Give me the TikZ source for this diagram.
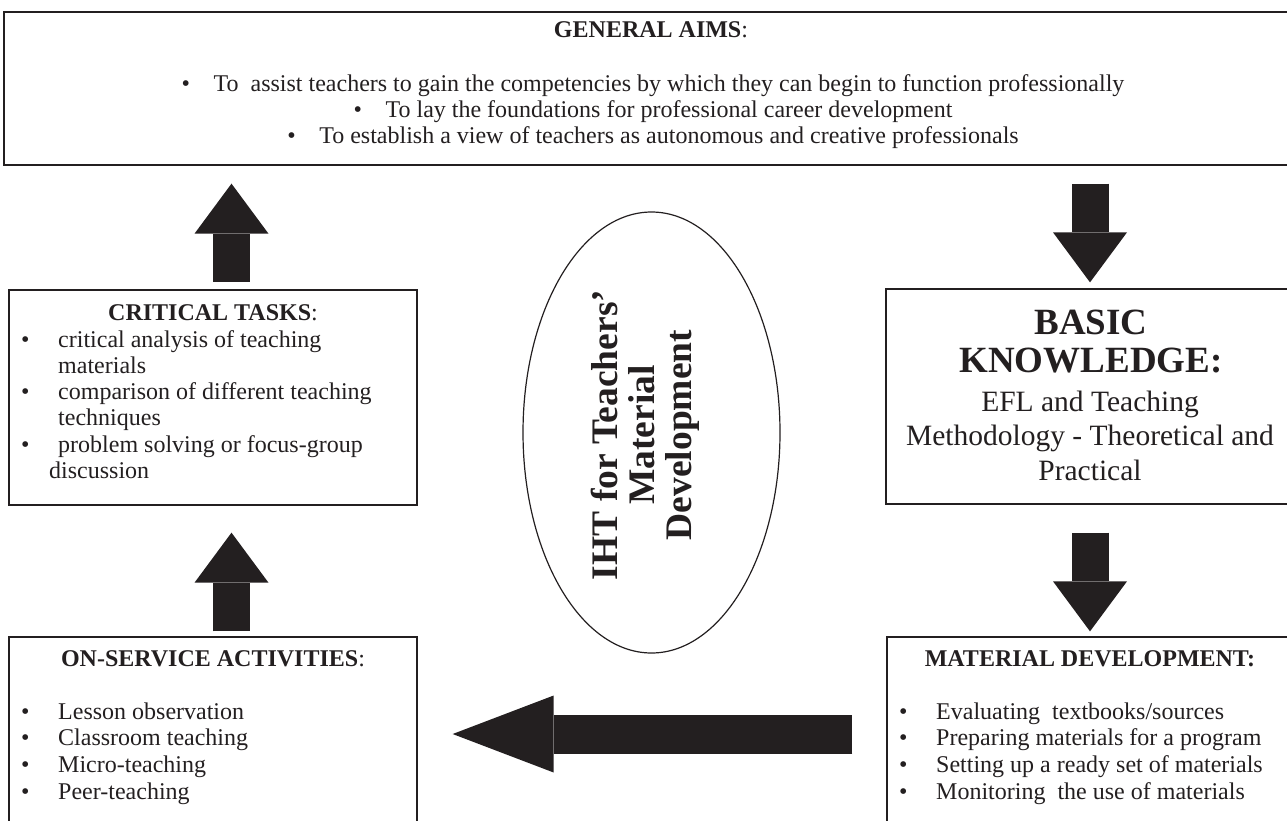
\documentclass[tikz,border=0pt]{standalone}
\usepackage{fontspec}
\setmainfont{Liberation Serif}
\usetikzlibrary{shapes.geometric,arrows.meta}
\definecolor{ink}{RGB}{35,31,32}
% bullet with a fixed gap before the item text
\newcommand{\itemdot}[1][37pt]{\makebox[#1][l]{\textbullet}}

\begin{document}
\begin{tikzpicture}[x=1pt,y=-1pt, every node/.style={text=ink,inner sep=0pt},
  box/.style={draw=ink,line width=1.3pt,rectangle,minimum width=408pt},
  head/.style={anchor=base,font=\fontsize{24pt}{26.7pt}\selectfont},
  item/.style={anchor=base west,font=\fontsize{24pt}{26.7pt}\selectfont},
  big/.style={anchor=base,font=\fontsize{37pt}{39pt}\selectfont\bfseries},
  mid/.style={anchor=base,font=\fontsize{29.5pt}{34.5pt}\selectfont},
  blockarrow/.style={draw=ink,line width=37pt,-{Triangle[length=50pt,width=74pt,line width=0pt]}},
  widearrow/.style={draw=ink,line width=39pt,-{Triangle[length=101pt,width=77pt,line width=0pt]}}]
\useasboundingbox (0,0) rectangle (1287,820);
\clip (0,0) rectangle (1287,820);

% boxes
\node[box,minimum width=1294pt,minimum height=153pt] (aims) at (651,88.5) {};
\node[box,minimum height=215pt] (crit) at (213,397.5) {};
\node[box,minimum height=200pt] (onserv) at (213,737) {};
\node[box,minimum height=215pt] (basic) at (1090,396.5) {};
\node[box,minimum height=200pt] (matdev) at (1091,737) {};
\node[draw=ink,line width=1.2pt,ellipse,minimum width=257pt,minimum height=441pt] (iht) at (651.5,432.5) {};
\node[rotate=90,align=center,font=\fontsize{37.5pt}{37pt}\selectfont\bfseries] (ihttext) at (645,435)
  {IHT for Teachers'\\Material\\Development};

% general aims
\node[head] (aimhead) at (651,37) {\textbf{GENERAL AIMS}:};
\node[head] (aim1) at (653,91) {\itemdot[32pt]To\ \ assist teachers to gain the competencies by which they can begin to function professionally};
\node[head] (aim2) at (653,117) {\itemdot[32pt]To lay the foundations for professional career development};
\node[head] (aim3) at (653,143) {\itemdot[32pt]To establish a view of teachers as autonomous and creative professionals};

% critical tasks
\node[head] (cthead) at (213,320) {\textbf{CRITICAL TASKS}:};
\foreach \y/\txt [count=\i] in {347/\itemdot critical analysis of teaching,
  373.3/\hspace*{37pt}materials,
  399.6/\itemdot comparison of different teaching,
  425.9/\hspace*{37pt}techniques,
  452.2/\itemdot problem solving or focus-group,
  478.5/\hspace*{28pt}discussion}
  \node[item] (ct\i) at (21,\y) {\txt};

% on-service activities
\node[head] (oshead) at (213,666) {\textbf{ON-SERVICE ACTIVITIES}:};
\foreach \txt [count=\i] in {Lesson observation,Classroom teaching,Micro-teaching,Peer-teaching}
  \node[item] (os\i) at (21,{719+26.7*(\i-1)}) {\itemdot\txt};

% basic knowledge
\node[big] (bk1) at (1091,334) {BASIC};
\node[big] (bk2) at (1091,372) {KNOWLEDGE:};
\node[mid] (bk3) at (1090,411) {EFL and Teaching};
\node[mid] (bk4) at (1090,445) {Methodology - Theoretical and};
\node[mid] (bk5) at (1090,480) {Practical};

% material development
\node[head] (mdhead) at (1090,666) {\textbf{MATERIAL DEVELOPMENT:}};
\foreach \txt [count=\i] in {Evaluating\ \ textbooks/sources,Preparing materials for a program,
  Setting up a ready set of materials,Monitoring\ \ the use of materials}
  \node[item] (md\i) at (899,{719+26.7*(\i-1)}) {\itemdot\txt};

% flow arrows
\draw[blockarrow,shorten <=7.5pt,shorten >=18pt] ([xshift=18.5pt]crit.north) -- ([xshift=18.5pt]crit.north |- aims.south);
\draw[blockarrow,shorten <=18pt,shorten >=6pt] (basic.north |- aims.south) -- (basic.north);
\draw[blockarrow,shorten <=28pt,shorten >=5pt] (basic.south) -- (basic.south |- matdev.north);
\draw[blockarrow,shorten <=5pt,shorten >=27pt] ([xshift=18.5pt]onserv.north) -- ([xshift=18.5pt]onserv.north |- crit.south);
\draw[widearrow,shorten <=34pt,shorten >=35pt] ([yshift=3pt]matdev.west) -- ([yshift=3pt]matdev.west -| onserv.east);
\end{tikzpicture}
\end{document}
